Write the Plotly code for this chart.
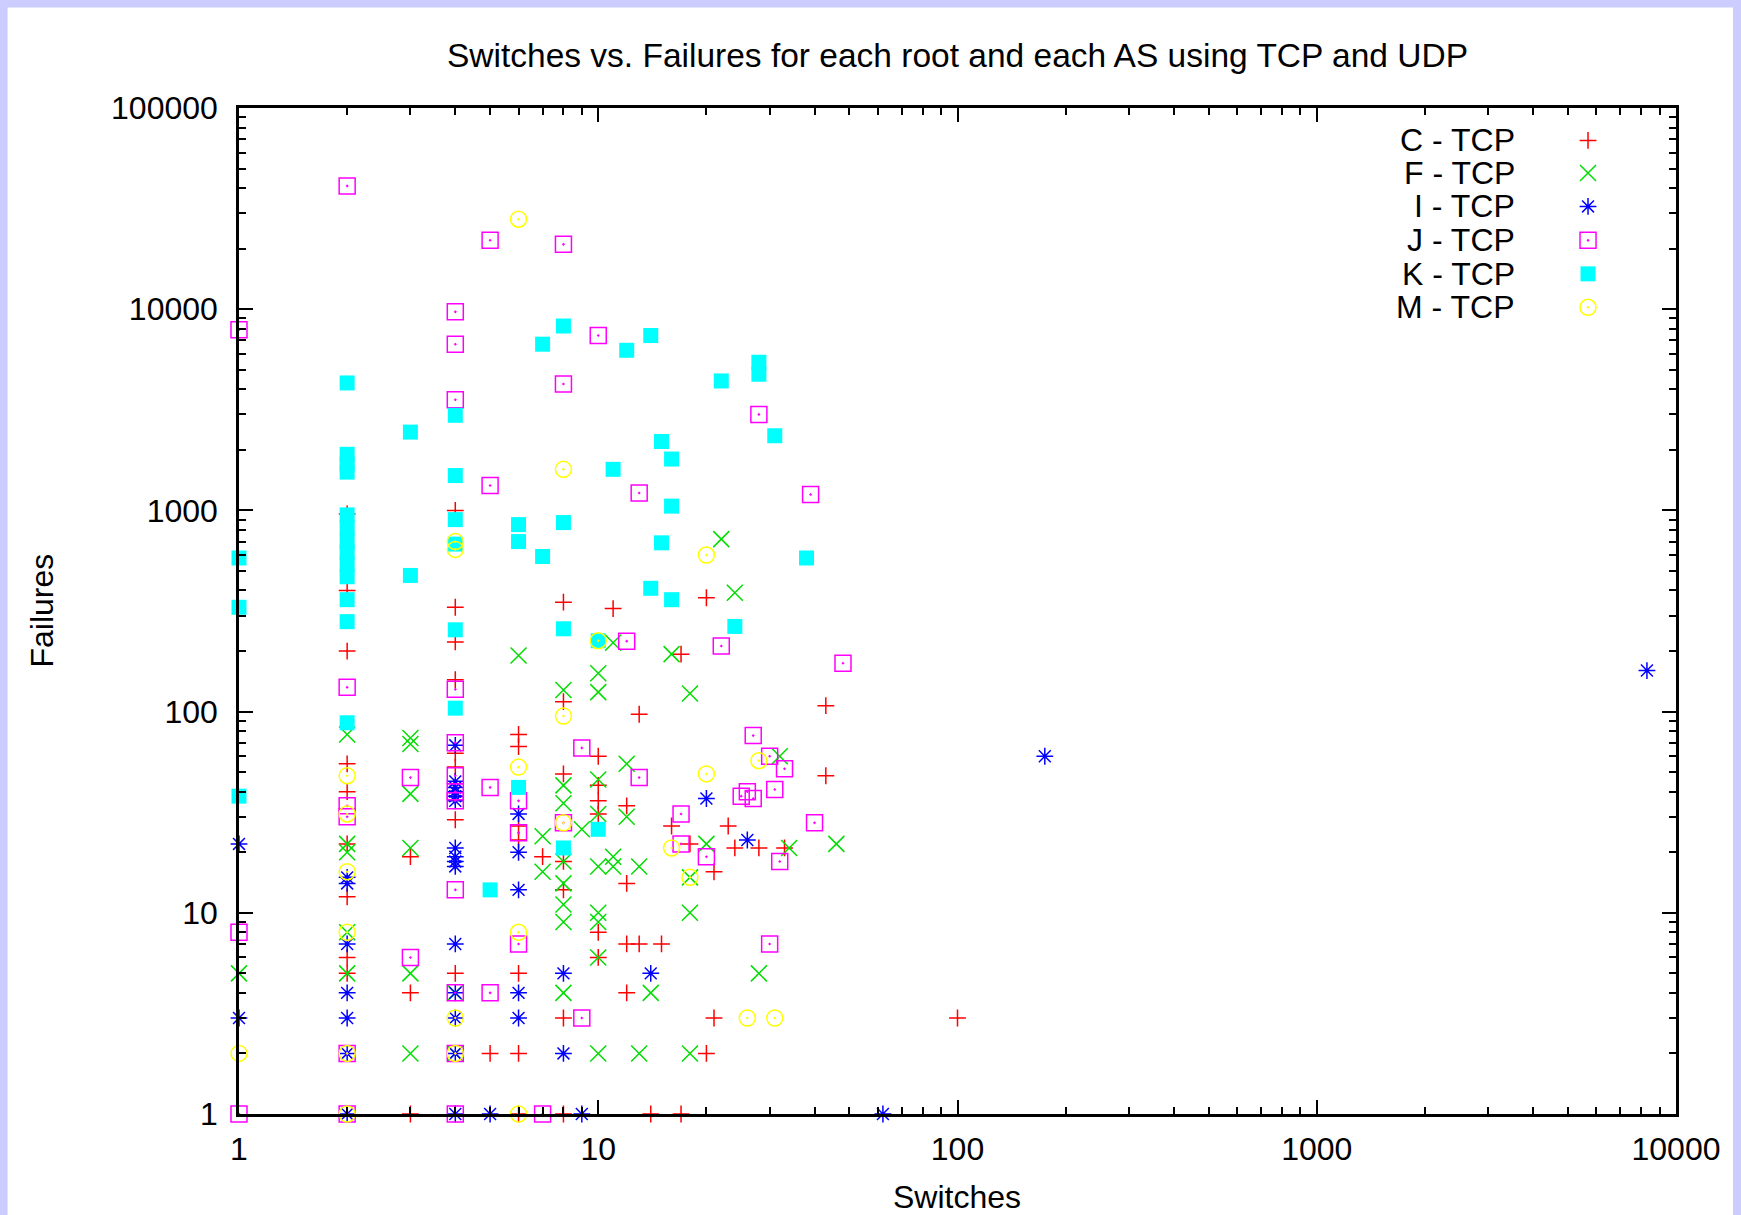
import plotly.graph_objects as go

# ---------------- data (switches, failures) ----------------
c_x = [2,2,2,2,2,2,2,2,2, 3,3,3, 4,4,4,4,4,4,4,4, 5, 6,6,6,6,6,6,6, 7,
       8,8,8,8,8,8,8, 10,10,10,10,10,10, 11, 12,12,12,12, 13,13, 14, 15, 16,
       17,17, 18, 20,20, 21,21, 23, 24, 28, 33, 43,43, 100]
c_y = [960,400,200,55,40,22,12,6,5, 19,4,1, 1000,330,222,144,62,53,29,5, 2,
       77,67,27,23,5,2,1, 19, 350,112,49,18,13,3,1, 60,43,36,31,8,6, 325,
       34,14,7,4, 97,7, 1, 7, 27, 193,1, 22, 368,2, 16,3, 27, 21, 21, 21, 107,48, 3]

f_x = [1, 2,2,2,2,2, 3,3,3,3,3,3, 4,4, 6, 7,7, 8,8,8,8,8,8,8,8, 9,
       10,10,10,10,10,10,10,10,10, 11,11,11, 12,12, 13,13, 14, 16,
       18,18,18,18, 20, 22, 24, 28, 32, 34, 46]
f_y = [5, 77,22,20,8,5, 74,69,39,21,5,2, 4,2, 190, 24,16, 128,43,35,18,14,11,9,4, 26,
       155,125,46,31,17,10,9,6,2, 220,19,17, 55,30, 17,2, 4, 193,
       123,15,10,2, 22, 720, 390, 5, 60, 21, 22]

i_x = [1,1, 2,2,2,2,2,2,2, 4,4,4,4,4,4,4,4,4,4,4,4,4,4,4, 5, 6,6,6,6,6,
       8,8, 9, 14, 20, 26, 62, 175, 8300]
i_y = [22,3, 15,14,7,4,3,2,1, 68,45,42,40,38,36,21,19,18,17,7,4,3,2,1, 1, 31,20,13,4,3,
       5,2, 1, 5, 37, 23, 1, 60, 160]

j_x = [1,1,1, 2,2,2,2,2,2, 3,3, 4,4,4,4,4,4,4,4,4,4,4,4, 5,5,5,5, 6,6,6, 7,
       8,8,8, 9,9, 10, 12, 13,13, 17,17, 20, 22, 25, 26, 27,27, 28, 30,30,
       31, 32, 33, 39, 40, 48]
j_y = [7900,8,1, 41000,132,34,30,2,1, 47,6, 9700,6700,3550,129,70,48,40,36,13,4,2,1,
       22000,1330,42,4, 36,25,7, 1, 21000,4250,28, 66,3, 7400, 224, 1220,47, 31,22,
       19, 212, 38, 40, 76,37, 3000, 60,7, 41, 18, 52, 1200, 28, 174]

k_x = [1,1,1, 2,2,2,2,2,2,2,2,2,2,2,2,2, 3,3, 4,4,4,4,4,4, 5, 6,6,6, 7,7,
       8,8,8,8, 10,10, 11, 12, 14,14, 15,15, 16,16,16, 22, 24, 28,28, 31, 38]
k_y = [580,330,38, 4300,1900,1700,1550,950,820,700,620,540,468,360,280,88,
       2450,475, 2970,1490,900,680,255,104, 13, 850,700,42, 6700,590,
       8250,870,258,21, 225,26, 1600, 6250, 7400,410, 2200,690, 1800,1050,360,
       4400, 265, 5450,4750, 2350, 580]

m_x = [1, 2,2,2,2,2,2, 4,4,4,4, 6,6,6,6, 8,8,8, 10, 16, 18, 20,20, 26, 28, 31]
m_y = [2, 48,31,16,8,2,1, 700,640,3,2, 28000,53,8,1, 1600,95,28, 225, 21, 15,
       600,49, 3, 57, 3]

series_names = ["C - TCP", "F - TCP", "I - TCP", "J - TCP", "K - TCP", "M - TCP"]
x_ticks = [1, 10, 100, 1000, 10000]
x_ticktext = ["1", "10", "100", "1000", "10000"]
y_ticks = [1, 10, 100, 1000, 10000, 100000]
y_ticktext = ["1", "10", "100", "1000", "10000", "100000"]

# ---------------- styles ----------------
styles = [
    dict(symbol="cross-thin-open", size=12, color="#ff0000"),
    dict(symbol="x-thin-open", size=16, color="#00dd00"),
    dict(symbol="asterisk-open", size=14, color="#0000ff"),
    dict(symbol="square-open-dot", size=16, color="#ff00ff"),
    dict(symbol="square", size=15, color="#00ffff"),
    dict(symbol="circle-open-dot", size=16, color="#ffff00"),
]
xs = [c_x, f_x, i_x, j_x, k_x, m_x]
ys = [c_y, f_y, i_y, j_y, k_y, m_y]

W, H = 1741, 1215
L, R, T, B = 238.5, 1676, 107.5, 1114.5
pw, ph = R - L, B - T
FONT = "Liberation Sans, Arial, sans-serif"

def px2x(p):
    return (p - L) / pw

def px2y(p):
    return (B - p) / ph

fig = go.Figure()
for nm, st, x, y in zip(series_names, styles, xs, ys):
    filled = st["symbol"] == "square"
    fig.add_trace(go.Scatter(
        x=x, y=y, mode="markers", name=nm, showlegend=False, cliponaxis=False,
        marker=dict(symbol=st["symbol"], size=st["size"],
                    color=st["color"],
                    line=dict(color=st["color"], width=0 if filled else 1.5)),
        xaxis="x", yaxis="y"))

# key (gnuplot style: text then symbol), on an auxiliary 0..1 axis
row_y = [140, 172.5, 206, 240, 273.5, 307]
key_sym_x = px2x(1588)
key_txt_x = px2x(1517)
for nm, st, ry in zip(series_names, styles, row_y):
    filled = st["symbol"] == "square"
    fig.add_trace(go.Scatter(
        x=[key_sym_x], y=[px2y(ry)], mode="markers", showlegend=False,
        cliponaxis=False, hoverinfo="skip",
        marker=dict(symbol=st["symbol"], size=st["size"], color=st["color"],
                    line=dict(color=st["color"], width=0 if filled else 1.5)),
        xaxis="x2", yaxis="y2"))

annotations = []
for nm, ry in zip(series_names, row_y):
    annotations.append(dict(
        x=key_txt_x, y=px2y(ry), xref="paper", yref="paper",
        text=nm, showarrow=False, xanchor="right", yanchor="middle",
        font=dict(family=FONT, size=32, color="black")))
annotations.append(dict(
    x=px2x(41), y=px2y(611), xref="paper", yref="paper", text="Failures",
    showarrow=False, textangle=-90, xanchor="center", yanchor="middle",
    font=dict(family=FONT, size=32, color="black")))
annotations.append(dict(
    x=px2x(957), y=px2y(1198), xref="paper", yref="paper", text="Switches",
    showarrow=False, xanchor="center", yanchor="middle",
    font=dict(family=FONT, size=32, color="black")))
annotations.append(dict(
    x=px2x(957), y=px2y(55), xref="paper", yref="paper",
    text="Switches vs. Failures for each root and each AS using TCP and UDP",
    showarrow=False, xanchor="center", yanchor="middle",
    font=dict(family=FONT, size=33.5, color="black")))

minor_x = [m * 10 ** d for d in range(0, 4) for m in range(2, 10)]
minor_y = [m * 10 ** d for d in range(0, 5) for m in range(2, 10)]

axis_common = dict(
    type="log", showgrid=False, zeroline=False, showline=True, linecolor="black",
    linewidth=2.5, mirror="ticks", ticks="inside", ticklen=14, tickwidth=2,
    tickcolor="black", tickfont=dict(family=FONT, size=32, color="black"),
    tickmode="array",
)

fig.update_layout(
    width=W, height=H,
    margin=dict(l=L, r=W - R, t=T, b=H - B, pad=0),
    paper_bgcolor="#ccccff", plot_bgcolor="white",
    showlegend=False,
    xaxis=dict(range=[0, 4], tickvals=x_ticks, ticktext=x_ticktext,
               minor=dict(tickmode="array", tickvals=minor_x, ticks="inside",
                          ticklen=7, tickwidth=2, tickcolor="black", showgrid=False),
               ticklabelstandoff=5, **axis_common),
    yaxis=dict(range=[0, 5], tickvals=y_ticks, ticktext=y_ticktext,
               minor=dict(tickmode="array", tickvals=minor_y, ticks="inside",
                          ticklen=7, tickwidth=2, tickcolor="black", showgrid=False),
               ticklabelstandoff=12, **axis_common),
    xaxis2=dict(range=[0, 1], overlaying="x", anchor="y2", visible=False,
                fixedrange=True),
    yaxis2=dict(range=[0, 1], overlaying="y", anchor="x2", visible=False,
                fixedrange=True),
    annotations=annotations,
    shapes=[dict(type="rect", xref="paper", yref="paper",
                 x0=px2x(7), x1=px2x(1733), y0=px2y(1260), y1=px2y(7),
                 fillcolor="white", line=dict(width=0), layer="below")],
)

fig.write_html(
    "out.html",
    config={"displayModeBar": False},
    post_script="document.body.style.margin='0';document.body.style.padding='0';"
                "document.documentElement.style.overflow='hidden';",
)
